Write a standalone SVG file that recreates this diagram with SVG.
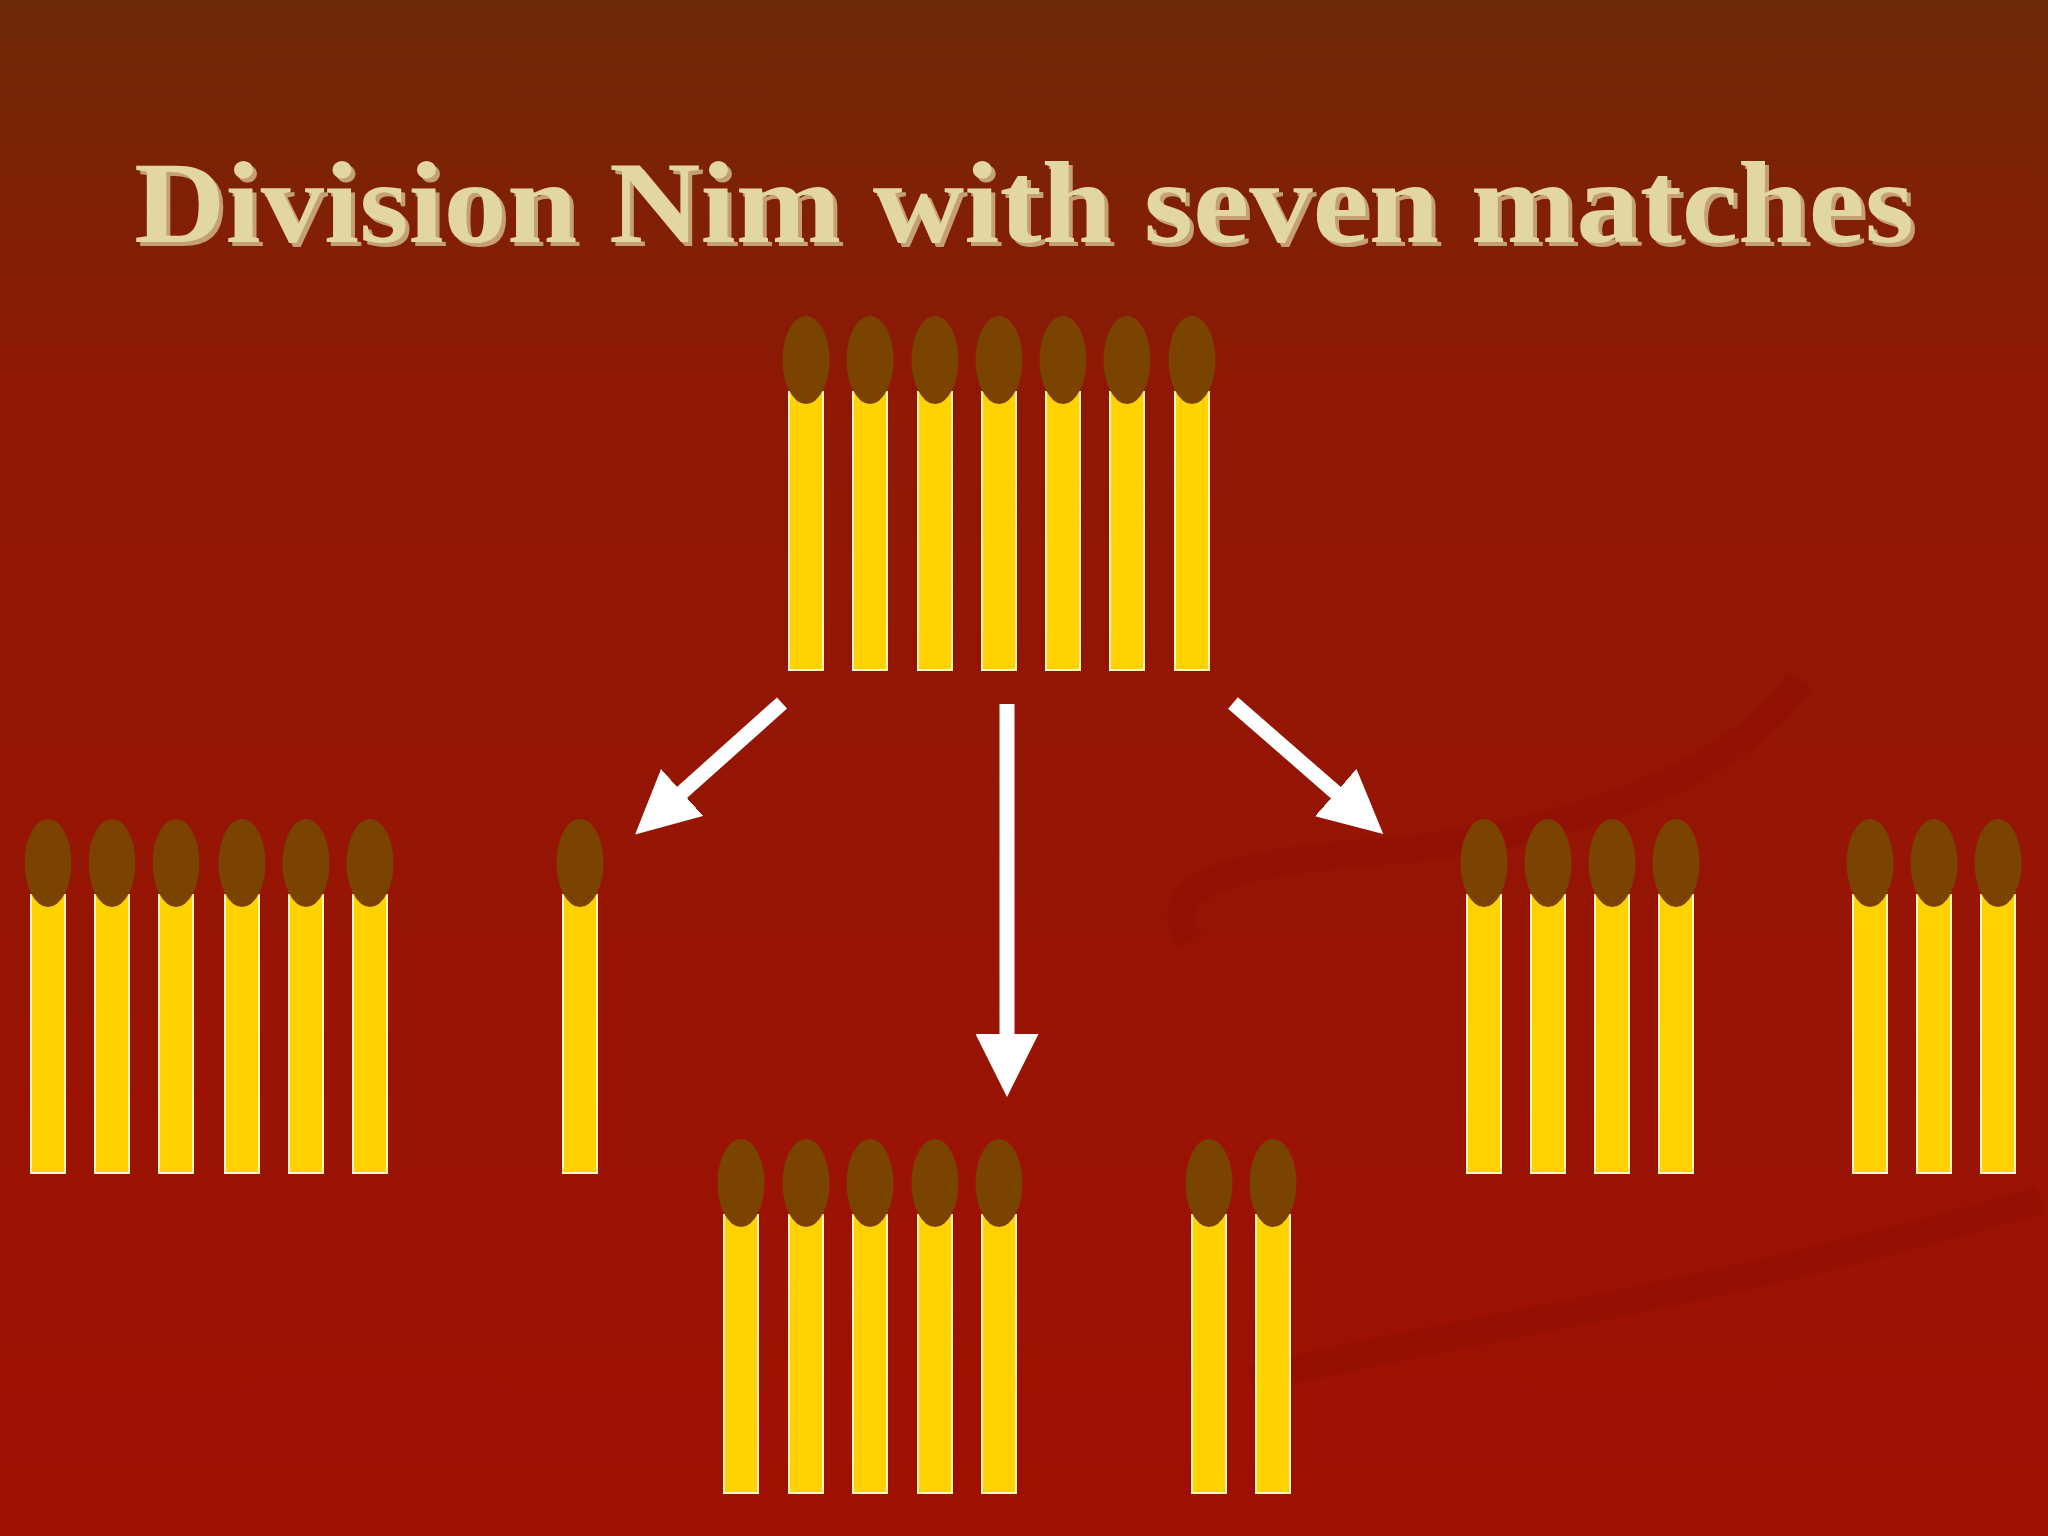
<svg xmlns="http://www.w3.org/2000/svg" width="2048" height="1536" viewBox="0 0 2048 1536">
<style>
.stick{fill:#ffd200;stroke:#fff4c0;stroke-width:2}
.head{fill:#7a4300}
.arrow{stroke:#fff;stroke-width:15;fill:none}
.title{font-family:"Liberation Serif",serif;font-weight:bold;font-size:116px;fill:#e2d7a3}
</style>
<defs>
<linearGradient id="bg" x1="0" y1="0" x2="0" y2="1">
<stop offset="0" stop-color="#6e2a08"/>
<stop offset="0.25" stop-color="#8f1805"/>
<stop offset="1" stop-color="#a01003"/>
</linearGradient>
<g id="m"><rect class="stick" x="-17" y="0" width="34" height="278"/><ellipse class="head" cx="0" cy="-32" rx="23.5" ry="44"/></g>
<marker id="ah" viewBox="0 0 10 10" refX="3" refY="5" markerWidth="4.2" markerHeight="4.2" orient="auto" markerUnits="strokeWidth"><path d="M0,0 L10,5 L0,10 z" fill="#fff"/></marker>
</defs>
<rect width="2048" height="1536" fill="url(#bg)"/>
<path d="M2040,1200 C1700,1300 1450,1330 1250,1380 M1190,940 C1150,880 1250,860 1400,850 C1600,830 1750,760 1800,680" stroke="#8e0e04" stroke-width="28" fill="none" opacity="0.45"/>
<text class="title" x="1024" y="242" text-anchor="middle" textLength="1780" lengthAdjust="spacingAndGlyphs" fill="#3a1000" opacity="0.7" transform="translate(4,4)">Division Nim with seven matches</text>
<text class="title" x="1024" y="242" text-anchor="middle" textLength="1780" lengthAdjust="spacingAndGlyphs">Division Nim with seven matches</text>
<g id="connectors">
<line class="arrow" x1="782" y1="703" x2="668" y2="805" marker-end="url(#ah)"/>
<line class="arrow" x1="1007" y1="704" x2="1007" y2="1053" marker-end="url(#ah)"/>
<line class="arrow" x1="1233" y1="703" x2="1350" y2="805" marker-end="url(#ah)"/>
</g>
<g id="seven">
<use href="#m" x="806" y="392"/><use href="#m" x="870" y="392"/><use href="#m" x="935" y="392"/><use href="#m" x="999" y="392"/><use href="#m" x="1063" y="392"/><use href="#m" x="1127" y="392"/><use href="#m" x="1192" y="392"/>
</g>
<g id="six-one">
<use href="#m" x="48" y="895"/><use href="#m" x="112" y="895"/><use href="#m" x="176" y="895"/><use href="#m" x="242" y="895"/><use href="#m" x="306" y="895"/><use href="#m" x="370" y="895"/><use href="#m" x="580" y="895"/>
</g>
<g id="five-two">
<use href="#m" x="741" y="1215"/><use href="#m" x="806" y="1215"/><use href="#m" x="870" y="1215"/><use href="#m" x="935" y="1215"/><use href="#m" x="999" y="1215"/><use href="#m" x="1209" y="1215"/><use href="#m" x="1273" y="1215"/>
</g>
<g id="four-three">
<use href="#m" x="1484" y="895"/><use href="#m" x="1548" y="895"/><use href="#m" x="1612" y="895"/><use href="#m" x="1676" y="895"/><use href="#m" x="1870" y="895"/><use href="#m" x="1934" y="895"/><use href="#m" x="1998" y="895"/>
</g>
</svg>
